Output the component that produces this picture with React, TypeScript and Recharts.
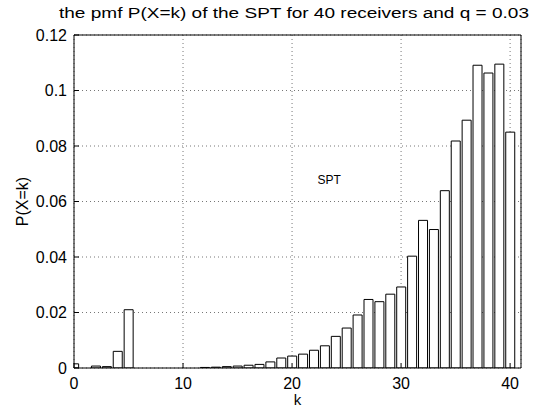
import React from 'react';
import { BarChart, Bar, XAxis, YAxis, CartesianGrid, ReferenceDot } from 'recharts';

const ks = [0, 1, 2, 3, 4, 5, 6, 7, 8, 9, 10, 11, 12, 13, 14, 15, 16, 17, 18, 19, 20, 21, 22, 23, 24, 25, 26, 27, 28, 29, 30, 31, 32, 33, 34, 35, 36, 37, 38, 39, 40];
const pmf = [
  0.0015, 0, 0.0007, 0.0005, 0.006, 0.021,
  0, 0, 0, 0, 0, 0,
  0.0002, 0.0003, 0.0005, 0.0007, 0.001, 0.0013, 0.0022, 0.0036, 0.0043, 0.005,
  0.0064, 0.008, 0.0114, 0.0144, 0.0191, 0.0247, 0.0239, 0.0266, 0.0292, 0.0403,
  0.0532, 0.0499, 0.0639, 0.0818, 0.0893, 0.1091, 0.1063, 0.1095, 0.085,
];
const xTicks = [0, 10, 20, 30, 40];
const yTicks = [0, 0.02, 0.04, 0.06, 0.08, 0.1, 0.12];
const title = 'the pmf P(X=k) of the SPT for 40 receivers and q = 0.03';
const xLabel = 'k';
const yLabel = 'P(X=k)';
const noteText = 'SPT';
const notePos = { k: 23.4, p: 0.0678 };

const data = ks.map((k, i) => ({ k, p: pmf[i] }));

const FONT = '"Liberation Sans", Arial, Helvetica, sans-serif';

export default function App() {
  return (
    <div style={{ position: 'absolute', left: 0, top: 0, width: 548, height: 412, background: '#fff', fontFamily: FONT }}>
      <BarChart
        width={548}
        height={412}
        data={data}
        margin={{ top: 34, right: 26, bottom: 0, left: 0 }}
        barCategoryGap="10%"
      >
        <CartesianGrid stroke="#777" strokeDasharray="1 3" />
        <XAxis
          dataKey="k"
          type="number"
          domain={[0, 41]}
          ticks={xTicks}
          allowDataOverflow
          height={44}
          tickSize={-5}
          tickMargin={15}
          axisLine={{ stroke: '#000' }}
          tickLine={{ stroke: '#000' }}
          tick={{ fill: '#000', fontSize: 16, fontFamily: FONT }}
        />
        <XAxis
          xAxisId="top"
          orientation="top"
          dataKey="k"
          type="number"
          domain={[0, 41]}
          ticks={xTicks}
          allowDataOverflow
          height={1}
          tickSize={-5}
          axisLine={{ stroke: '#000' }}
          tickLine={{ stroke: '#000' }}
          tick={false}
        />
        <YAxis
          type="number"
          domain={[0, 0.12]}
          ticks={yTicks}
          allowDataOverflow
          width={74}
          tickSize={-5}
          tickMargin={12}
          axisLine={{ stroke: '#000' }}
          tickLine={{ stroke: '#000' }}
          tick={{ fill: '#000', fontSize: 16, fontFamily: FONT }}
        />
        <YAxis
          yAxisId="right"
          orientation="right"
          type="number"
          domain={[0, 0.12]}
          ticks={yTicks}
          allowDataOverflow
          width={1}
          tickSize={-5}
          axisLine={{ stroke: '#000' }}
          tickLine={{ stroke: '#000' }}
          tick={false}
        />
        <Bar dataKey="p" fill="#fff" stroke="#000" strokeWidth={1} isAnimationActive={false} />
        <ReferenceDot
          x={notePos.k}
          y={notePos.p}
          r={0.1}
          fill="none"
          stroke="none"
          label={{ value: noteText, position: 'center', fontSize: 12, fill: '#000', fontFamily: FONT }}
        />
      </BarChart>
      <svg width={548} height={412} style={{ position: 'absolute', left: 0, top: 0, pointerEvents: 'none' }}>
        <text x={294} y={18} textAnchor="middle" fontSize={15.5} fontFamily={FONT} fill="#000" textLength={470} lengthAdjust="spacingAndGlyphs">
          {title}
        </text>
        <text x={297.5} y={405} textAnchor="middle" fontSize={15} fontFamily={FONT} fill="#000">
          {xLabel}
        </text>
        <text transform="translate(28,201.5) rotate(-90)" textAnchor="middle" fontSize={16} fontFamily={FONT} fill="#000">
          {yLabel}
        </text>
      </svg>
    </div>
  );
}
